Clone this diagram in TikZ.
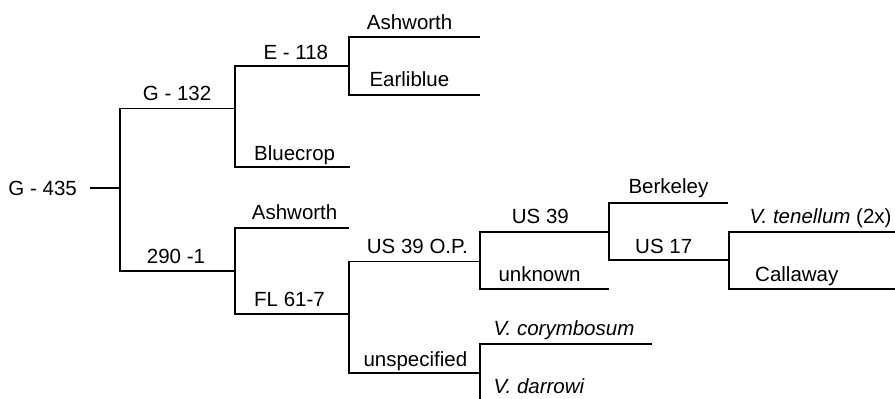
\documentclass[tikz,border=0pt]{standalone}
\usepackage{fontspec}
\setmainfont{Liberation Sans}
\begin{document}
\begin{tikzpicture}[x=1pt,y=-1pt,
  br/.style={line width=1.9pt,line cap=rect},
  lbl/.style={anchor=base west,inner sep=0pt,font=\fontsize{20.5}{24}\selectfont}]
\useasboundingbox (0,0) rectangle (895,399);
% coordinates
\coordinate (r0) at (91,188);
\coordinate (f1) at (120,188);
\coordinate (a1) at (120,108.5); \coordinate (a2) at (235,108.5);
\coordinate (b1) at (120,271);   \coordinate (b2) at (235,271);
\coordinate (c1) at (235,65.7);  \coordinate (c2) at (349,65.7);
\coordinate (d1) at (235,166.7); \coordinate (d2) at (349,166.7);
\coordinate (e1) at (349,36.7);  \coordinate (e2) at (479,36.7);
\coordinate (g1) at (349,95);    \coordinate (g2) at (479,95);
\coordinate (h1) at (235,228.3); \coordinate (h2) at (348,228.3);
\coordinate (i1) at (235,314.3); \coordinate (i2) at (349,314.3);
\coordinate (j1) at (349,261.5); \coordinate (j2) at (480,261.5);
\coordinate (k1) at (349,373.3); \coordinate (k2) at (480,373.3);
\coordinate (l1) at (480,231.7); \coordinate (l2) at (609,231.7);
\coordinate (m1) at (480,289);   \coordinate (m2) at (608,289);
\coordinate (n1) at (609,202.7); \coordinate (n2) at (727,202.7);
\coordinate (o1) at (609,260);   \coordinate (o2) at (729,260);
\coordinate (p1) at (729,231.7); \coordinate (p2) at (895,231.7);
\coordinate (q1) at (729,289.3); \coordinate (q2) at (895,289.3);
\coordinate (s1) at (480,344.3); \coordinate (s2) at (651,344.3);
\coordinate (t1) at (480,402);
% lines
\draw[br] (r0) -- (f1);
\draw[br] (b1) -- (a1) -- (a2);
\draw[br] (b1) -- (b2);
\draw[br] (d1) -- (c1) -- (c2);
\draw[br] (d1) -- (d2);
\draw[br] (g1) -- (e1) -- (e2);
\draw[br] (g1) -- (g2);
\draw[br] (i1) -- (h1) -- (h2);
\draw[br] (i1) -- (i2);
\draw[br] (k1) -- (j1) -- (j2);
\draw[br] (k1) -- (k2);
\draw[br] (m1) -- (l1) -- (l2);
\draw[br] (m1) -- (m2);
\draw[br] (o1) -- (n1) -- (n2);
\draw[br] (o1) -- (o2);
\draw[br] (q1) -- (p1) -- (p2);
\draw[br] (q1) -- (q2);
\draw[br] (t1) -- (s1) -- (s2);
% labels
\node[lbl] (tG435) at (8.3,195) {G - 435};
\node[lbl] (tG132) at (142.7,100) {G - 132};
\node[lbl] (t2901) at (146.7,263.3) {290 -1};
\node[lbl] (tE118) at (263.3,59.3) {E - 118};
\node[lbl] (tBlue) at (254,160.7) {Bluecrop};
\node[lbl] (tAsh1) at (366.7,29.3) {Ashworth};
\node[lbl] (tEarl) at (369.3,86.7) {Earliblue};
\node[lbl] (tAsh2) at (251.7,219.3) {Ashworth};
\node[lbl] (tFL) at (254,306.7) {FL 61-7};
\node[lbl] (tUSOP) at (366.7,253.3) {US 39 O.P.};
\node[lbl] (tUnsp) at (363.3,366) {unspecified};
\node[lbl] (tUS39) at (511.7,223.3) {US 39};
\node[lbl] (tUnkn) at (498.3,281.7) {unknown};
\node[lbl] (tBerk) at (628.3,193.3) {Berkeley};
\node[lbl] (tUS17) at (635,253.3) {US 17};
\node[lbl] (tTen) at (749.3,223.3) {\itshape V. tenellum\upshape{} (2x)};
\node[lbl] (tCall) at (755,281.7) {Callaway};
\node[lbl] (tCory) at (493.3,335.7) {\itshape V. corymbosum};
\node[lbl] (tDarr) at (493.3,393.3) {\itshape V. darrowi};
\end{tikzpicture}
\end{document}
